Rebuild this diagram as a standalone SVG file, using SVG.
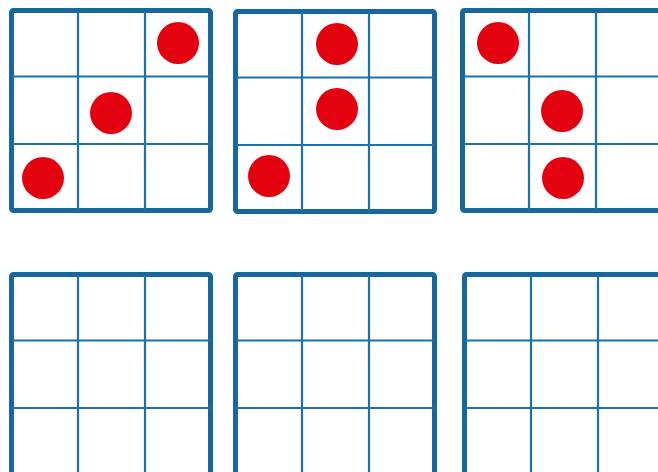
<svg xmlns="http://www.w3.org/2000/svg" width="658" height="472" viewBox="0 0 658 472">
<defs>
<style>
.frame{fill:#fff;stroke:#16679c;stroke-width:5;stroke-linejoin:round}
.line{stroke:#1b73aa;stroke-width:2.2}
.dot{fill:#e3000f}
</style>
<g id="grid">
<rect class="frame" x="2.5" y="2.5" width="199" height="200" rx="2"/>
<line class="line" x1="69" y1="3" x2="69" y2="202"/>
<line class="line" x1="136" y1="3" x2="136" y2="202"/>
<line class="line" x1="3" y1="68.5" x2="201" y2="68.5"/>
<line class="line" x1="3" y1="136" x2="201" y2="136"/>
</g>
</defs>
<rect width="658" height="472" fill="#fff"/>
<g id="g1" transform="translate(9,8)">
<use href="#grid"/>
<circle class="dot" cx="169" cy="35" r="21"/>
<circle class="dot" cx="102" cy="105" r="21"/>
<circle class="dot" cx="34" cy="170" r="21"/>
</g>
<g id="g2" transform="translate(233,9)">
<use href="#grid"/>
<circle class="dot" cx="104" cy="35" r="21"/>
<circle class="dot" cx="104" cy="100" r="21"/>
<circle class="dot" cx="36" cy="167" r="21"/>
</g>
<g id="g3" transform="translate(460,8)">
<use href="#grid"/>
<circle class="dot" cx="38" cy="35" r="21"/>
<circle class="dot" cx="102" cy="103" r="21"/>
<circle class="dot" cx="103" cy="170" r="21"/>
</g>
<g id="g4" transform="translate(9,272)"><use href="#grid"/></g>
<g id="g5" transform="translate(233,272)"><use href="#grid"/></g>
<g id="g6" transform="translate(462,272)"><use href="#grid"/></g>
<g id="connectors"/>
</svg>
